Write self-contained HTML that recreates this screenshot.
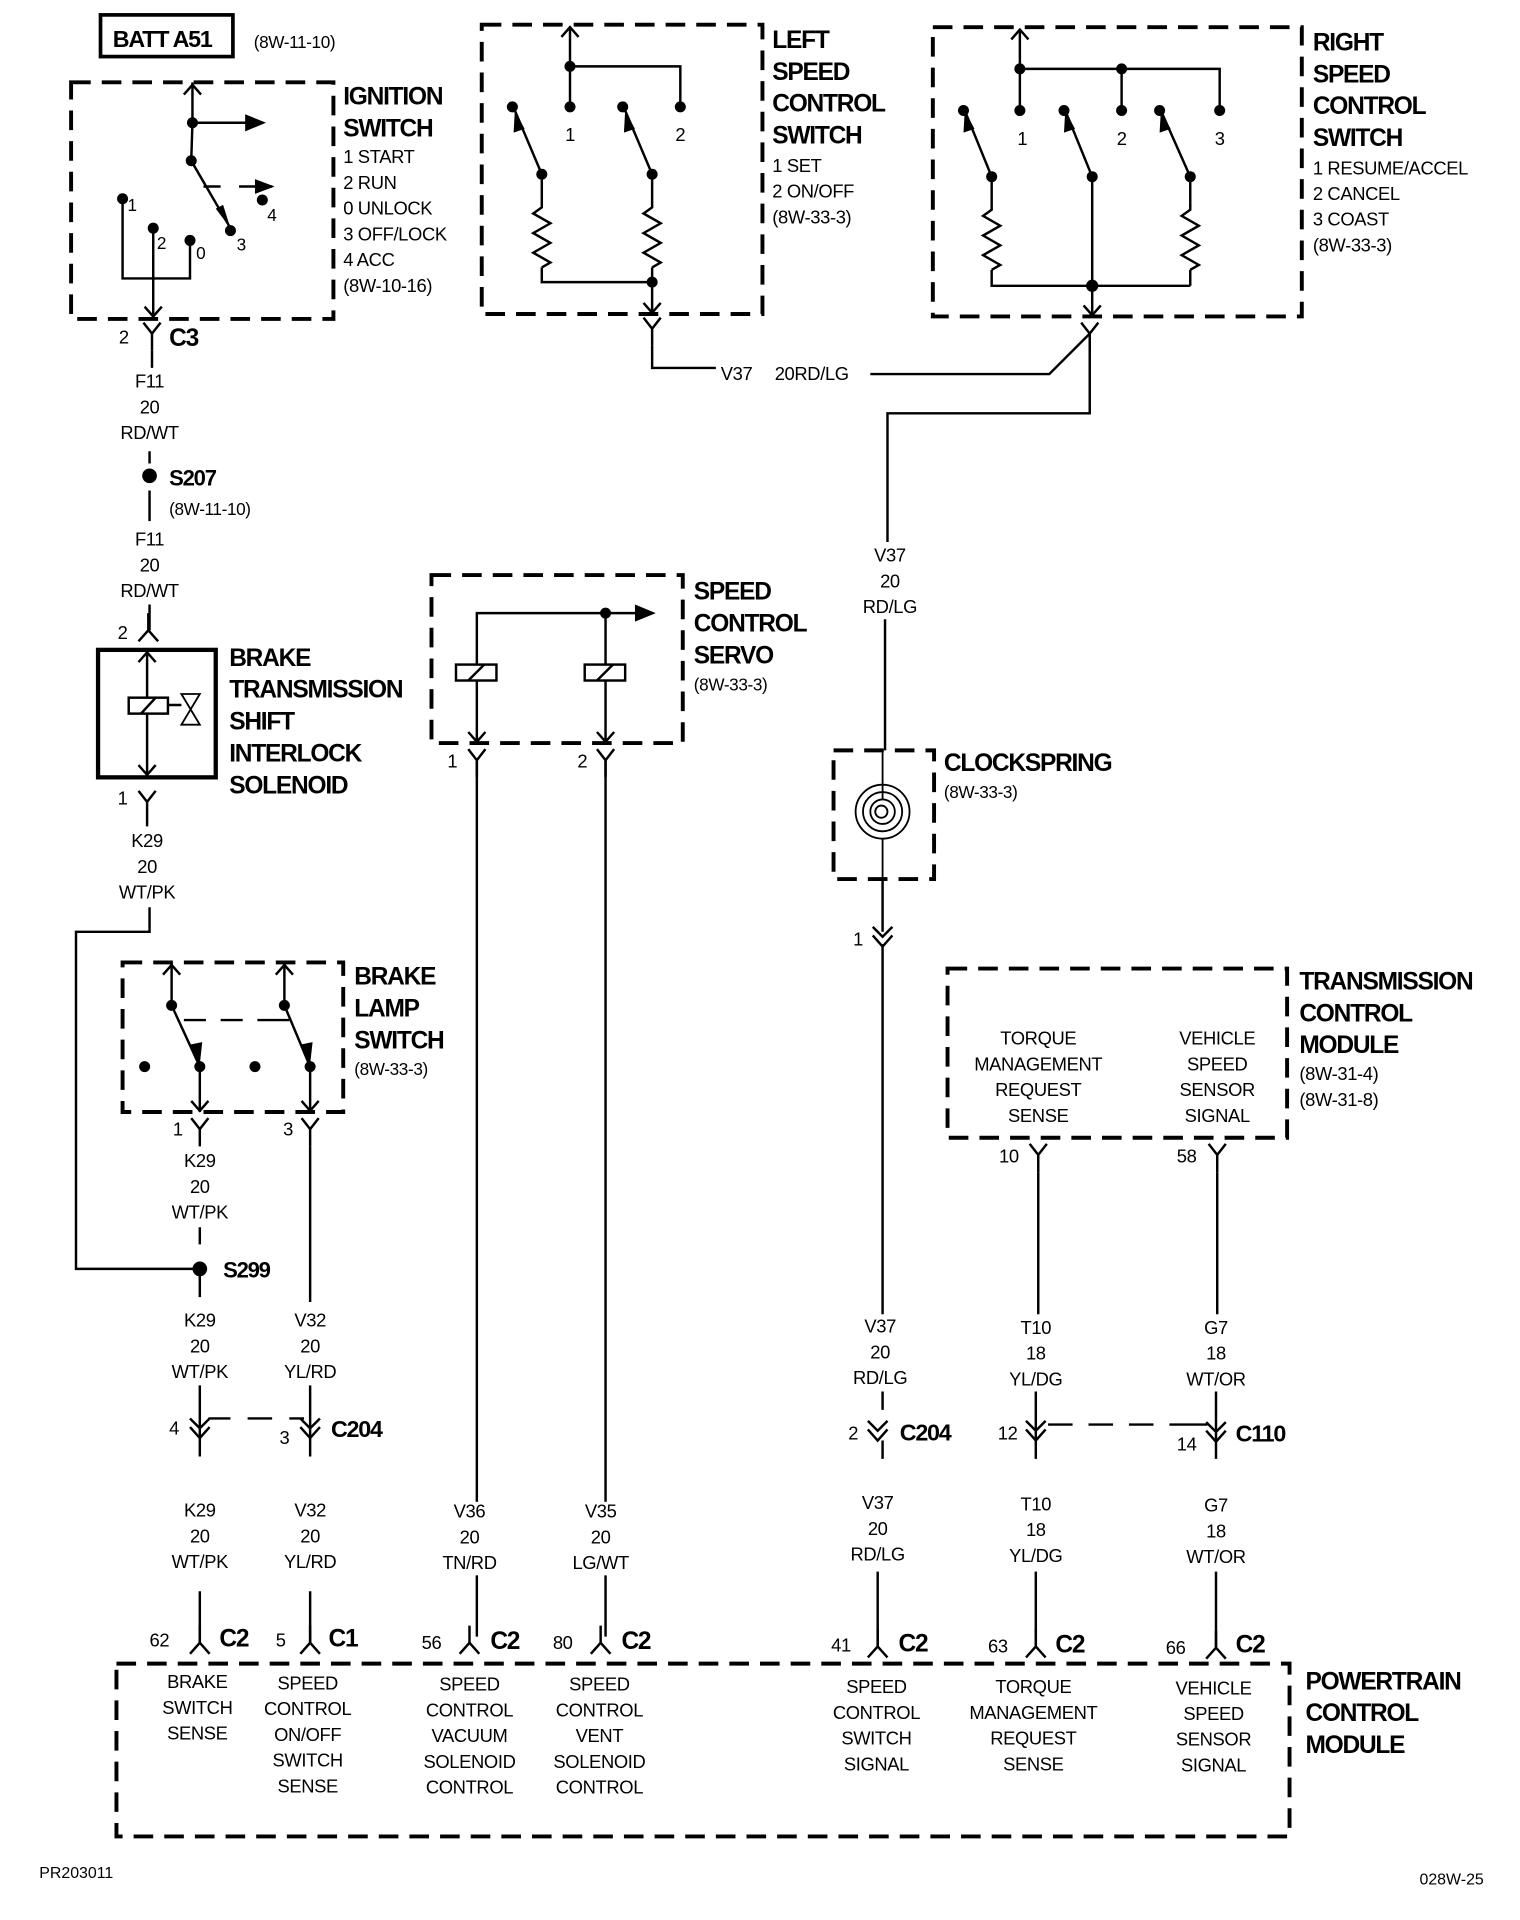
<!DOCTYPE html>
<html><head><meta charset="utf-8"><style>
html,body{margin:0;padding:0;background:#fff;}
svg{display:block;}
text{font-family:"Liberation Sans",sans-serif;fill:#000;}
.t{font-size:15px;letter-spacing:-0.3px;}
.b{font-size:20px;font-weight:bold;letter-spacing:-1px;}
.c{text-anchor:middle;}
.s{font-size:14px;letter-spacing:-0.3px;}
</style></head><body>
<svg width="1520" height="1920" viewBox="0 0 1240 1566" xmlns="http://www.w3.org/2000/svg">
<defs>
<path id="yc" d="M-7,-9 L0,0 L7,-9 M0,0 V14" fill="none" stroke="#000" stroke-width="2"/>
<path id="lam" d="M0,-14 V0 M-8,9 L0,0 L8,9" fill="none" stroke="#000" stroke-width="2"/>
<path id="dbl" d="M-8,-10 L0,-2 L8,-10 M-8,-3 L0,6 L8,-3" fill="none" stroke="#000" stroke-width="2"/>
<path id="ad" d="M-7,-8 L0,0 L7,-8" fill="none" stroke="#000" stroke-width="2"/>
<path id="au" d="M-7,8 L0,0 L7,8" fill="none" stroke="#000" stroke-width="2"/>
<path id="zz" d="M0,0 V6 L-7,11 L7,19 L-7,27 L7,35 L-7,43 L7,51 L0,55" fill="none" stroke="#000" stroke-width="2"/>
</defs>
<g fill="none" stroke="#000" stroke-width="2">
<rect x="82" y="12" width="108" height="34" stroke-width="3"/>
<g stroke-width="3.2" stroke-dasharray="16 9">
<rect x="58" y="67" width="214" height="193"/>
<rect x="393" y="20" width="229" height="236"/>
<rect x="761" y="22" width="301" height="236"/>
<rect x="352" y="469" width="205" height="137"/>
<rect x="680" y="612" width="82" height="105"/>
<rect x="100" y="785" width="180" height="122"/>
<rect x="773" y="790" width="277" height="138"/>
<rect x="95" y="1357" width="957" height="141"/>
</g>
<path d="M157,67 V100 H212"/>
<path d="M157,100 L156,131 L188,186"/>
<path d="M166,152 H180 M195,152 H222" />
<path d="M100,162 V227 H155 V196 M125,186 V258"/>
</g>
<g fill="#000">
<polygon points="200,93 217,100 200,107"/>
<polygon points="208,146 224,152 208,158"/>
<polygon points="176,170 188,186 182,167"/>
<circle cx="157" cy="100" r="4.5"/><circle cx="156" cy="131" r="4.5"/>
<circle cx="100" cy="162" r="4.5"/><circle cx="125" cy="186" r="4.5"/><circle cx="155" cy="196" r="4.5"/><circle cx="188" cy="188" r="4.5"/><circle cx="214" cy="163" r="4.5"/>
</g>
<use href="#au" x="157" y="69"/>
<use href="#ad" x="125" y="258"/>
<use href="#yc" x="124" y="272"/>
<text class="b" x="92" y="38" style="font-size:19px">BATT A51</text>
<text class="s" x="207" y="39">(8W-11-10)</text>
<text class="b" x="280" y="85">IGNITION</text>
<text class="b" x="280" y="111">SWITCH</text>
<text class="t" x="280" y="133">1 START</text>
<text class="t" x="280" y="154">2 RUN</text>
<text class="t" x="280" y="175">0 UNLOCK</text>
<text class="t" x="280" y="196">3 OFF/LOCK</text>
<text class="t" x="280" y="217">4 ACC</text>
<text class="t" x="280" y="238">(8W-10-16)</text>
<text class="s" x="104" y="172">1</text><text class="s" x="128" y="203">2</text><text class="s" x="160" y="211">0</text><text class="s" x="193" y="204">3</text><text class="s" x="218" y="180">4</text>
<text class="t" x="97" y="280">2</text><text class="b" x="138" y="282">C3</text>
<g stroke="#000" stroke-width="2" fill="none"><path d="M124,286 V300 M122,368 V378 M122,400 V425 M122,493 V514"/></g>
<text class="t c" x="122" y="316">F11</text><text class="t c" x="122" y="337">20</text><text class="t c" x="122" y="358">RD/WT</text>
<circle cx="122" cy="388" r="6"/>
<text class="b" x="138" y="396" style="font-size:18px">S207</text>
<text class="s" x="138" y="420">(8W-11-10)</text>
<text class="t c" x="122" y="445">F11</text><text class="t c" x="122" y="466">20</text><text class="t c" x="122" y="487">RD/WT</text>
<use href="#lam" x="121" y="514"/>
<text class="t" x="96" y="521">2</text>
<g stroke="#000" fill="none">
<rect x="80" y="530" width="96" height="104" stroke-width="3.5"/>
<path d="M120,530 V634" stroke-width="2"/>
<rect x="105" y="569" width="32" height="13" stroke-width="2" fill="#fff"/>
<path d="M115,582 L127,569 M137,575 H148" stroke-width="2"/>
<path d="M148,566 H163 L148,591 H163 Z" stroke-width="1.5"/>
</g>
<use href="#au" x="120" y="532"/><use href="#ad" x="120" y="632"/>
<text class="b" x="187" y="543">BRAKE</text><text class="b" x="187" y="569">TRANSMISSION</text><text class="b" x="187" y="595">SHIFT</text><text class="b" x="187" y="621">INTERLOCK</text><text class="b" x="187" y="647">SOLENOID</text>
<use href="#yc" x="120" y="654"/><text class="t" x="96" y="656">1</text>
<text class="t c" x="120" y="691">K29</text><text class="t c" x="120" y="712">20</text><text class="t c" x="120" y="733">WT/PK</text>
<g stroke="#000" stroke-width="2" fill="none">
<path d="M120,668 V674 M122,740 V760 H62 V1035 H163"/>
</g>
<g stroke="#000" stroke-width="2" fill="none">
<path d="M140,785 V820 L163,870 V907 M232,785 V820 L253,870 V907"/>
<path d="M150,832 H168 M180,832 H198 M210,832 H236"/>
</g>
<g fill="#000"><circle cx="140" cy="820" r="4.5"/><circle cx="232" cy="820" r="4.5"/><circle cx="118" cy="870" r="4.5"/><circle cx="163" cy="870" r="4.5"/><circle cx="208" cy="870" r="4.5"/><circle cx="253" cy="870" r="4.5"/>
<polygon points="155,852 163,868 165,850"/><polygon points="245,852 253,868 255,850"/></g>
<use href="#au" x="140" y="787"/><use href="#au" x="232" y="787"/><use href="#ad" x="163" y="906"/><use href="#ad" x="253" y="906"/>
<text class="b" x="289" y="803">BRAKE</text><text class="b" x="289" y="829">LAMP</text><text class="b" x="289" y="855">SWITCH</text><text class="s" x="289" y="877">(8W-33-3)</text>
<use href="#yc" x="163" y="921"/><use href="#yc" x="253" y="921"/>
<text class="t" x="141" y="926">1</text><text class="t" x="231" y="926">3</text>
<text class="t c" x="163" y="952">K29</text><text class="t c" x="163" y="973">20</text><text class="t c" x="163" y="994">WT/PK</text>
<g stroke="#000" stroke-width="2" fill="none"><path d="M163,1001 V1015 M163,1035 V1058 M253,935 V1062"/></g>
<circle cx="163" cy="1035" r="6"/>
<text class="b" x="182" y="1042" style="font-size:18px">S299</text>
<text class="t c" x="163" y="1082">K29</text><text class="t c" x="163" y="1103">20</text><text class="t c" x="163" y="1124">WT/PK</text>
<text class="t c" x="253" y="1082">V32</text><text class="t c" x="253" y="1103">20</text><text class="t c" x="253" y="1124">YL/RD</text>
<g stroke="#000" stroke-width="2" fill="none">
<path d="M163,1130 V1170 V1188 M253,1130 V1170 V1188"/>
<path d="M170,1157 H188 M202,1157 H222 M236,1157 H248" />
<path d="M163,1298 V1340 M253,1298 V1340"/>
</g>
<use href="#dbl" x="163" y="1167"/><use href="#dbl" x="253" y="1167"/>
<text class="t" x="138" y="1170">4</text><text class="t" x="228" y="1178">3</text><text class="b" x="270" y="1172" style="font-size:19px">C204</text>
<text class="t c" x="163" y="1237">K29</text><text class="t c" x="163" y="1258">20</text><text class="t c" x="163" y="1279">WT/PK</text>
<text class="t c" x="253" y="1237">V32</text><text class="t c" x="253" y="1258">20</text><text class="t c" x="253" y="1279">YL/RD</text>
<g stroke="#000" stroke-width="2" fill="none">
<path d="M389,606 V500 H522 M494,500 V606"/>
<rect x="372" y="542" width="33" height="13" fill="#fff"/>
<rect x="477" y="542" width="33" height="13" fill="#fff"/>
<path d="M382,555 L395,542 M487,555 L500,542"/>
<path d="M389,620 V1335 M494,620 V1335"/>
</g>
<polygon points="518,493 535,500 518,507"/><circle cx="494" cy="500" r="4.5"/>
<use href="#ad" x="389" y="605"/><use href="#ad" x="494" y="605"/>
<use href="#yc" x="389" y="620"/><use href="#yc" x="494" y="620"/>
<text class="t" x="365" y="626">1</text><text class="t" x="471" y="626">2</text>
<text class="b" x="566" y="489">SPEED</text><text class="b" x="566" y="515">CONTROL</text><text class="b" x="566" y="541">SERVO</text><text class="s" x="566" y="563">(8W-33-3)</text>
<rect x="365" y="1225" width="40" height="60" fill="#fff"/><rect x="470" y="1225" width="40" height="60" fill="#fff"/>
<text class="t c" x="383" y="1238">V36</text><text class="t c" x="383" y="1259">20</text><text class="t c" x="383" y="1280">TN/RD</text>
<text class="t c" x="490" y="1238">V35</text><text class="t c" x="490" y="1259">20</text><text class="t c" x="490" y="1280">LG/WT</text>
<g stroke="#000" stroke-width="2" fill="none">
<path d="M465,22 V87 M465,54 H555 V87"/>
<path d="M442,142 L420,90 M532,142 L510,90"/>
<path d="M442,142 V163"/><use href="#zz" x="442" y="163"/><path d="M442,218 V230 H532"/>
<path d="M532,142 V163"/><use href="#zz" x="532" y="163"/><path d="M532,218 V256"/>
<path d="M532,282 V300 H584 M710,305 H856 L889,272 V337 H724 V442 M722,505 V612"/>
</g>
<g fill="#000"><circle cx="465" cy="54" r="4.5"/><circle cx="465" cy="87" r="4.5"/><circle cx="555" cy="87" r="4.5"/><circle cx="418" cy="87" r="4.5"/><circle cx="508" cy="87" r="4.5"/><circle cx="442" cy="142" r="4.5"/><circle cx="532" cy="142" r="4.5"/><circle cx="532" cy="230" r="4.5"/>
<polygon points="420,90 419,108 428,105"/><polygon points="510,90 509,108 518,105"/></g>
<use href="#au" x="465" y="22"/><use href="#ad" x="532" y="255"/><use href="#yc" x="532" y="268"/>
<text class="t" x="461" y="115">1</text><text class="t" x="551" y="115">2</text>
<text class="b" x="630" y="39">LEFT</text><text class="b" x="630" y="65">SPEED</text><text class="b" x="630" y="91">CONTROL</text><text class="b" x="630" y="117">SWITCH</text>
<text class="t" x="630" y="140">1 SET</text><text class="t" x="630" y="161">2 ON/OFF</text><text class="t" x="630" y="182">(8W-33-3)</text>
<text class="t" x="588" y="310">V37</text><text class="t" x="632" y="310">20RD/LG</text>
<g stroke="#000" stroke-width="2" fill="none">
<path d="M832,24 V90 M832,56 H995 V90 M915,56 V90"/>
<path d="M809,144 L787,90 M891,144 L869,90 M971,144 L947,90"/>
<path d="M809,144 V165"/><use href="#zz" x="809" y="165"/><path d="M809,220 V233 H971"/>
<path d="M971,144 V165"/><use href="#zz" x="971" y="165"/><path d="M971,220 V233"/>
<path d="M891,144 V258"/>
</g>
<g fill="#000"><circle cx="832" cy="56" r="4.5"/><circle cx="915" cy="56" r="4.5"/><circle cx="832" cy="90" r="4.5"/><circle cx="915" cy="90" r="4.5"/><circle cx="995" cy="90" r="4.5"/><circle cx="786" cy="90" r="4.5"/><circle cx="868" cy="90" r="4.5"/><circle cx="946" cy="90" r="4.5"/>
<circle cx="809" cy="144" r="4.5"/><circle cx="891" cy="144" r="4.5"/><circle cx="971" cy="144" r="4.5"/><circle cx="891" cy="233" r="5"/>
<polygon points="787,90 786,108 795,105"/><polygon points="869,90 868,108 877,105"/><polygon points="947,90 946,108 955,105"/></g>
<use href="#au" x="832" y="24"/><use href="#ad" x="891" y="257"/><use href="#yc" x="889" y="272"/>
<text class="t" x="830" y="118">1</text><text class="t" x="911" y="118">2</text><text class="t" x="991" y="118">3</text>
<text class="b" x="1071" y="41">RIGHT</text><text class="b" x="1071" y="67">SPEED</text><text class="b" x="1071" y="93">CONTROL</text><text class="b" x="1071" y="119">SWITCH</text>
<text class="t" x="1071" y="142">1 RESUME/ACCEL</text><text class="t" x="1071" y="163">2 CANCEL</text><text class="t" x="1071" y="184">3 COAST</text><text class="t" x="1071" y="205">(8W-33-3)</text>
<text class="t c" x="726" y="458">V37</text><text class="t c" x="726" y="479">20</text><text class="t c" x="726" y="500">RD/LG</text>
<!-- clockspring -->
<g stroke="#000" stroke-width="1.5" fill="none">
<path d="M720,612 V652"/>
<circle cx="720" cy="662" r="22"/>
<circle cx="720" cy="662" r="16"/>
<circle cx="720" cy="662" r="10"/>
<circle cx="719" cy="662" r="5"/>
<path d="M720,684 V717"/>
<path d="M720,717 V760 M720,770 V1072" stroke-width="2"/>
</g>
<use href="#dbl" x="720" y="766"/><text class="t" x="696" y="771">1</text>
<text class="b" x="770" y="629">CLOCKSPRING</text><text class="s" x="770" y="651">(8W-33-3)</text>
<text class="b" x="1060" y="807">TRANSMISSION</text><text class="b" x="1060" y="833">CONTROL</text><text class="b" x="1060" y="859">MODULE</text>
<text class="t" x="1060" y="881">(8W-31-4)</text><text class="t" x="1060" y="902">(8W-31-8)</text>
<text class="t c" x="847" y="852">TORQUE</text><text class="t c" x="847" y="873">MANAGEMENT</text><text class="t c" x="847" y="894">REQUEST</text><text class="t c" x="847" y="915">SENSE</text>
<text class="t c" x="993" y="852">VEHICLE</text><text class="t c" x="993" y="873">SPEED</text><text class="t c" x="993" y="894">SENSOR</text><text class="t c" x="993" y="915">SIGNAL</text>
<use href="#yc" x="847" y="942"/><use href="#yc" x="993" y="942"/>
<text class="t" x="815" y="948">10</text><text class="t" x="960" y="948">58</text>
<g stroke="#000" stroke-width="2" fill="none">
<path d="M847,956 V1072 M993,956 V1072"/>
<path d="M720,1135 V1150 M720,1175 V1190 M845,1135 V1190 M992,1135 V1190"/>
<path d="M855,1162 H875 M888,1162 H908 M921,1162 H941 M954,1162 H985"/>
<path d="M716,1282 V1342 M845,1282 V1342 M992,1282 V1344"/>
</g>
<text class="t c" x="718" y="1087">V37</text><text class="t c" x="718" y="1108">20</text><text class="t c" x="718" y="1129">RD/LG</text>
<text class="t c" x="845" y="1088">T10</text><text class="t c" x="845" y="1109">18</text><text class="t c" x="845" y="1130">YL/DG</text>
<text class="t c" x="992" y="1088">G7</text><text class="t c" x="992" y="1109">18</text><text class="t c" x="992" y="1130">WT/OR</text>
<use href="#dbl" x="716" y="1169"/><use href="#dbl" x="845" y="1169"/><use href="#dbl" x="992" y="1170"/>
<text class="t" x="692" y="1174">2</text><text class="b" x="734" y="1175" style="font-size:19px">C204</text>
<text class="t" x="814" y="1174">12</text><text class="t" x="960" y="1183">14</text><text class="b" x="1008" y="1176" style="font-size:19px">C110</text>
<text class="t c" x="716" y="1231">V37</text><text class="t c" x="716" y="1252">20</text><text class="t c" x="716" y="1273">RD/LG</text>
<text class="t c" x="845" y="1232">T10</text><text class="t c" x="845" y="1253">18</text><text class="t c" x="845" y="1274">YL/DG</text>
<text class="t c" x="992" y="1233">G7</text><text class="t c" x="992" y="1254">18</text><text class="t c" x="992" y="1275">WT/OR</text>
<use href="#lam" x="163" y="1340"/><use href="#lam" x="253" y="1340"/><use href="#lam" x="383" y="1340"/><use href="#lam" x="490" y="1340"/>
<use href="#lam" x="716" y="1343"/><use href="#lam" x="845" y="1343"/><use href="#lam" x="992" y="1344"/>
<text class="t" x="122" y="1343">62</text><text class="b" x="179" y="1343">C2</text>
<text class="t" x="225" y="1343">5</text><text class="b" x="268" y="1343">C1</text>
<text class="t" x="344" y="1345">56</text><text class="b" x="400" y="1345">C2</text>
<text class="t" x="451" y="1345">80</text><text class="b" x="507" y="1345">C2</text>
<text class="t" x="678" y="1347">41</text><text class="b" x="733" y="1347">C2</text>
<text class="t" x="806" y="1348">63</text><text class="b" x="861" y="1348">C2</text>
<text class="t" x="951" y="1349">66</text><text class="b" x="1008" y="1348">C2</text>
<text class="b" x="1065" y="1378">POWERTRAIN</text><text class="b" x="1065" y="1404">CONTROL</text><text class="b" x="1065" y="1430">MODULE</text>
<text class="t c" x="161" y="1377">BRAKE</text><text class="t c" x="161" y="1398">SWITCH</text><text class="t c" x="161" y="1419">SENSE</text>
<text class="t c" x="251" y="1378">SPEED</text><text class="t c" x="251" y="1399">CONTROL</text><text class="t c" x="251" y="1420">ON/OFF</text><text class="t c" x="251" y="1441">SWITCH</text><text class="t c" x="251" y="1462">SENSE</text>
<text class="t c" x="383" y="1379">SPEED</text><text class="t c" x="383" y="1400">CONTROL</text><text class="t c" x="383" y="1421">VACUUM</text><text class="t c" x="383" y="1442">SOLENOID</text><text class="t c" x="383" y="1463">CONTROL</text>
<text class="t c" x="489" y="1379">SPEED</text><text class="t c" x="489" y="1400">CONTROL</text><text class="t c" x="489" y="1421">VENT</text><text class="t c" x="489" y="1442">SOLENOID</text><text class="t c" x="489" y="1463">CONTROL</text>
<text class="t c" x="715" y="1381">SPEED</text><text class="t c" x="715" y="1402">CONTROL</text><text class="t c" x="715" y="1423">SWITCH</text><text class="t c" x="715" y="1444">SIGNAL</text>
<text class="t c" x="843" y="1381">TORQUE</text><text class="t c" x="843" y="1402">MANAGEMENT</text><text class="t c" x="843" y="1423">REQUEST</text><text class="t c" x="843" y="1444">SENSE</text>
<text class="t c" x="990" y="1382">VEHICLE</text><text class="t c" x="990" y="1403">SPEED</text><text class="t c" x="990" y="1424">SENSOR</text><text class="t c" x="990" y="1445">SIGNAL</text>
<text x="32" y="1532" style="font-size:13px">PR203011</text>
<text x="1158" y="1537" style="font-size:13px">028W-25</text>
</svg>
</body></html>
